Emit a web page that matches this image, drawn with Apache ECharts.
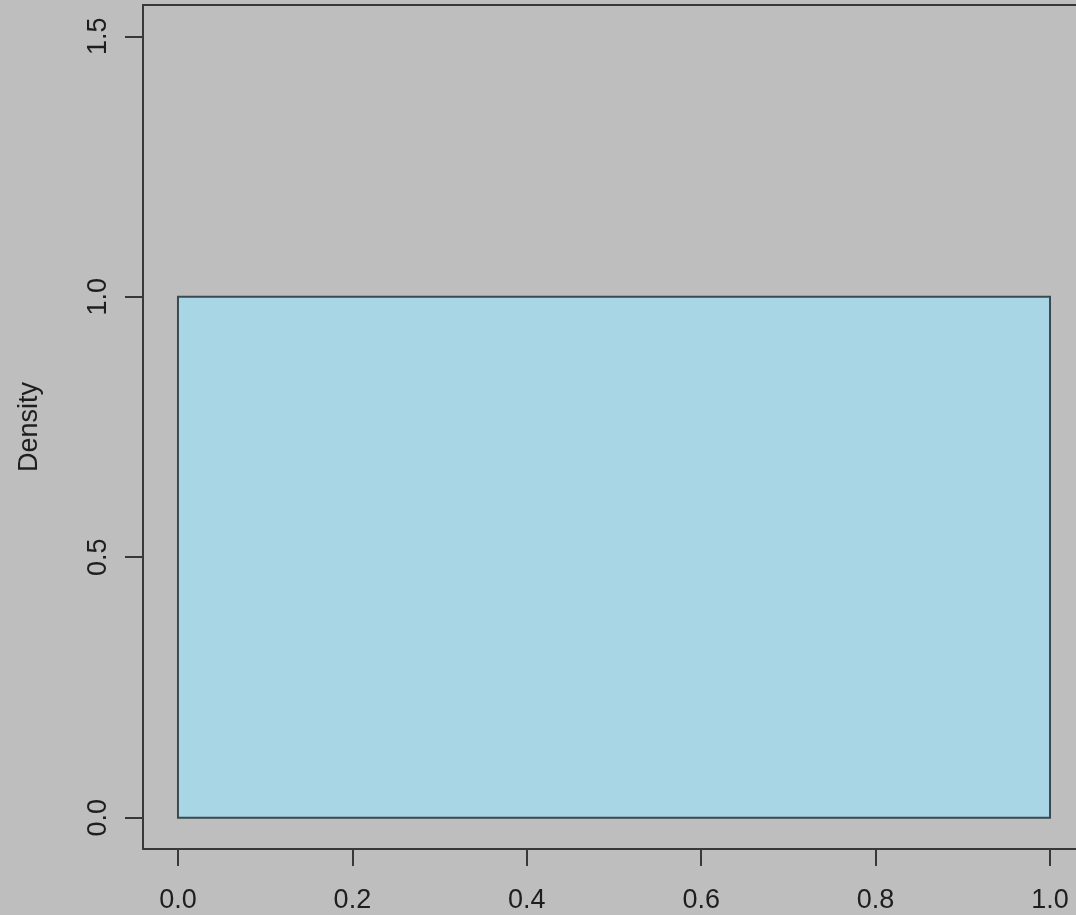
<!DOCTYPE html>
<html><head><meta charset="utf-8">
<script src="https://cdn.jsdelivr.net/npm/echarts@6/dist/echarts.min.js"></script>
<style>html,body{margin:0;padding:0;background:#BEBEBE;}#c{width:1076px;height:915px;}</style>
</head><body><div id="c"></div>
<script>
// Histogram data: bins [start, end] and density
const binStarts = [0.0];
const binEnds = [1.0];
const densities = [1.0];
const xTicks = [0, 0.2, 0.4, 0.6, 0.8, 1.0];
const yTicks = [0, 0.5, 1.0, 1.5];
const yName = 'Density';

const lineColor = '#383838';
const textColor = '#1e1e1e';
const font = 'Liberation Sans, Arial, Helvetica, sans-serif';
const chart = echarts.init(document.getElementById('c'));
const data = binStarts.map((s, i) => [s, binEnds[i], densities[i]]);
chart.setOption({
  backgroundColor: '#BEBEBE',
  animation: false,
  grid: {left: 143, top: 5, right: 0, bottom: 66, show: false, containLabel: false},
  xAxis: [{
    type: 'value', min: -0.0401, max: 1.0298, position: 'bottom',
    splitLine: {show: false},
    axisLine: {show: true, onZero: false, lineStyle: {color: lineColor, width: 2}},
    axisTick: {show: true, inside: false, length: 17, lineStyle: {color: lineColor, width: 2}, customValues: xTicks},
    axisLabel: {show: true, margin: 38, fontSize: 27, fontFamily: font, color: textColor, customValues: xTicks,
      formatter: v => v.toFixed(1)}
  }, {
    type: 'value', min: -0.0401, max: 1.0298, position: 'top',
    splitLine: {show: false},
    axisLine: {show: true, onZero: false, lineStyle: {color: lineColor, width: 2}},
    axisTick: {show: false}, axisLabel: {show: false}
  }],
  yAxis: {
    type: 'value', min: -0.06, max: 1.56, position: 'left',
    name: yName, nameLocation: 'middle', nameRotate: 90, nameGap: 100,
    nameTextStyle: {fontSize: 27, fontFamily: font, color: textColor},
    splitLine: {show: false},
    axisLine: {show: true, onZero: false, lineStyle: {color: lineColor, width: 2}},
    axisTick: {show: true, inside: false, length: 18, lineStyle: {color: lineColor, width: 2}, customValues: yTicks},
    axisLabel: {show: true, rotate: 90, margin: 31, fontSize: 27, fontFamily: font, color: textColor, customValues: yTicks,
      formatter: v => v.toFixed(1)}
  },
  series: [{
    type: 'custom',
    xAxisIndex: 0,
    data: data,
    encode: {x: [0, 1], y: 2},
    renderItem: function (params, api) {
      const p0 = api.coord([api.value(0), 0]);
      const p1 = api.coord([api.value(1), api.value(2)]);
      return {
        type: 'rect',
        shape: {x: p0[0], y: p1[1], width: p1[0] - p0[0], height: p0[1] - p1[1]},
        style: {fill: '#A9D6E5', stroke: '#3a4a50', lineWidth: 2}
      };
    }
  }]
});
</script></body></html>
